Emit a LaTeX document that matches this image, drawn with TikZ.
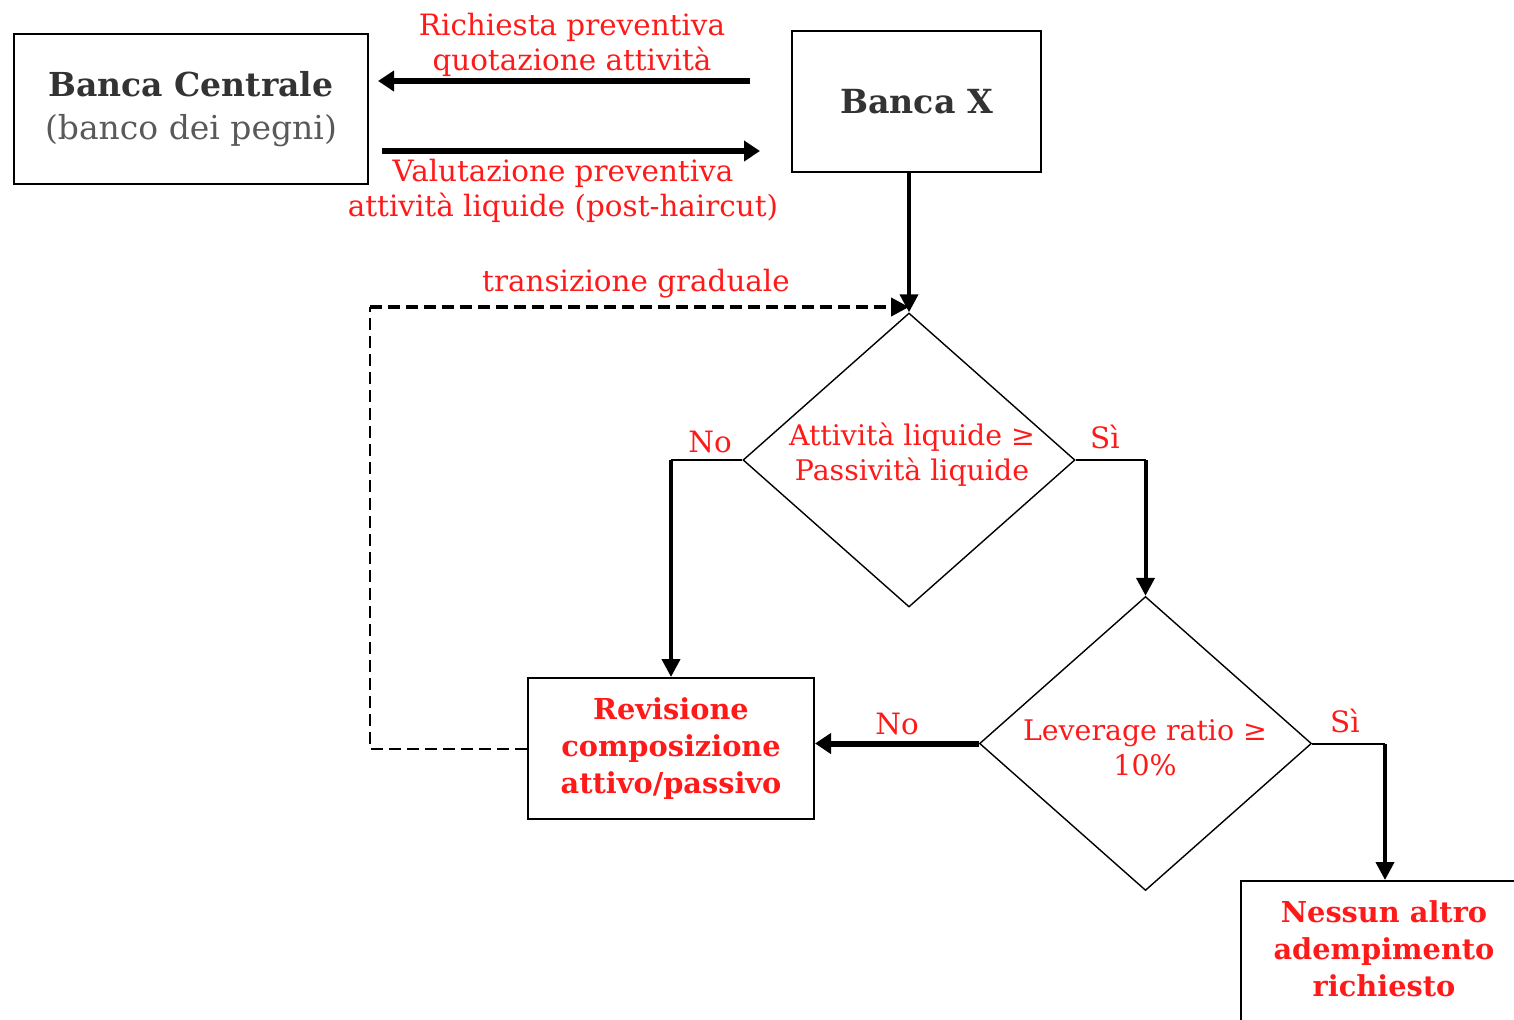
\documentclass[tikz,border=0pt]{standalone}
\usepackage{fontspec}
\setmainfont{DejaVu Serif}
\usepackage{xcolor}
\usetikzlibrary{arrows.meta, positioning, shapes.geometric}
\definecolor{lblred}{HTML}{FF1A1A}
\definecolor{boxgray}{HTML}{333333}

\begin{document}
\begin{tikzpicture}[x=0.5pt, y=-0.5pt,
  lbl/.style={text=lblred, font=\fontsize{14.7}{17.5}\selectfont, align=center, inner sep=0pt},
  cond/.style={lbl, font=\fontsize{14.2}{17.5}\selectfont},
  bred/.style={text=lblred, font=\fontsize{14.4}{18.5}\selectfont\bfseries, align=center, inner sep=0pt},
  hbox/.style={draw, line width=1pt, inner sep=0pt, align=center},
  dia/.style={draw, diamond, line width=0.7pt, minimum width=166pt, minimum height=147pt,
              inner sep=0pt},
  thk/.style={line width=2pt, -{Triangle[length=9pt, width=9pt]}},
  wide/.style={line width=3pt, -{Triangle[length=8pt, width=10pt]}},
  thn/.style={line width=1pt},
  fback/.style={dashed, dash pattern=on 6pt off 3pt}
]
\useasboundingbox (0,0) rectangle (1514,1019);
\clip (0,0) rectangle (1514,1019);

% ---- banks --------------------------------------------------------------
\node[hbox, minimum width=177pt, minimum height=75pt,
      font=\fontsize{16.5}{21.5}\selectfont] (bc) at (191,109)
  {\textcolor{boxgray}{\textbf{Banca Centrale}}\\\textcolor{black!65}{(banco dei pegni)}};
\node[hbox, minimum width=124.5pt, minimum height=70.5pt, text=boxgray,
      font=\fontsize{16.6}{18}\selectfont\bfseries] (bx) at (916.5,101.5) {Banca X};

\coordinate (rq1) at (750,81);
\coordinate (rq2) at (378,81);
\coordinate (vl1) at (382,151);
\coordinate (vl2) at (760,151);
\draw[wide] (rq1) -- (rq2);
\draw[wide] (vl1) -- (vl2);
\node[lbl] (rqlbl) at (572,45) {Richiesta preventiva\\quotazione attività};
\node[lbl] (vllbl) at (563,191) {Valutazione preventiva\\attività liquide (post-haircut)};

% ---- decisions ----------------------------------------------------------
\node[dia] (d1) at (909,460) {};
\node[cond] (d1t) at (912,455) {Attività liquide ≥\\Passività liquide};
\node[dia] (d2) at (1145.5,743.5) {};
\node[cond] (d2t) at (1145,748) {Leverage ratio ≥\\10\%};

\draw[thk] (bx.south -| d1.north) -- (d1.north);

% ---- outcomes -----------------------------------------------------------
\node[hbox, minimum width=143pt, minimum height=70.5pt, bred] (rev) at (671,748.5)
  {Revisione\\composizione\\attivo/passivo};
\node[hbox, anchor=north west, minimum width=144pt, minimum height=90pt] (ness) at (1240,880) {};
\node[bred] (nesst) at (1384,949) {Nessun altro\\adempimento\\richiesto};

% no / si branches
\coordinate (no1) at (d1.west -| rev.north);
\draw[thn] (d1.west) -- (no1);
\draw[thk] (no1) -- (rev.north);
\node[lbl] (no1lbl) at (710,442) {No};

\coordinate (si1) at (d1.east -| d2.north);
\draw[thn] (d1.east) -- (si1);
\draw[thk] (si1) -- (d2.north);
\node[lbl] (si1lbl) at (1105,437) {Sì};

\draw[wide] (d2.west) -- (d2.west -| rev.east);
\node[lbl] (no2lbl) at (897,724) {No};

\coordinate (si2) at (d2.east -| ness.north);
\draw[thn] (d2.east) -- (si2);
\draw[thk] (si2) -- (ness.north);
\node[lbl] (si2lbl) at (1345,721) {Sì};

% ---- feedback loop ------------------------------------------------------
\coordinate (fb2) at (370,307);
\draw[thn, fback] (rev.west) -- (rev.west -| fb2) -- (fb2);
\draw[line width=2pt, fback, -{Triangle[length=9pt, width=9pt]}] (fb2) -- (d1.north |- fb2);
\node[lbl] (tglbl) at (636,284) {transizione graduale};
\end{tikzpicture}
\end{document}
